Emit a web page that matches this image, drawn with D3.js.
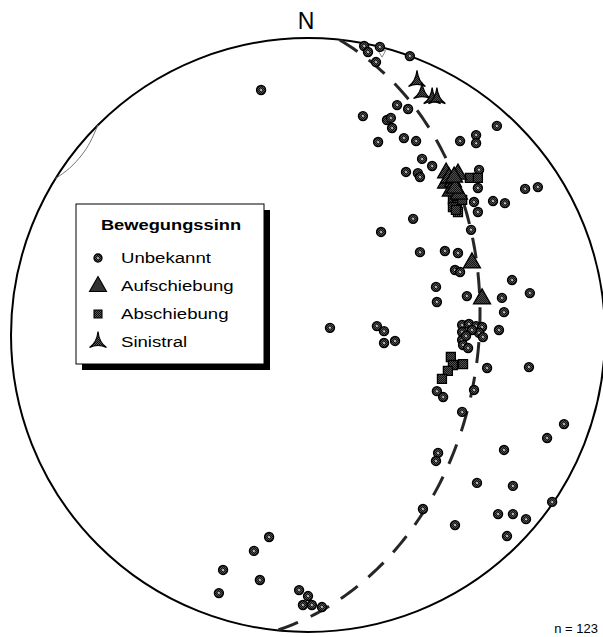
<!DOCTYPE html>
<html>
<head>
<meta charset="utf-8">
<script src="https://cdn.jsdelivr.net/npm/d3@7"></script>
<style>
  body { margin: 0; background: #fff; }
  svg { display: block; }
</style>
</head>
<body>
<script>
// Lower-hemisphere stereonet of fault data, positions in percent of net radius (east, north)
const unbekannt = [
  [-15.8, 82.5], [18.9, 97.3], [20.2, 95.3], [24.2, 97.0], [34.3, 93.9], [22.9, 91.9],
  [30.0, 77.4], [33.7, 76.1], [18.5, 73.7], [26.6, 72.4], [27.9, 73.1], [28.3, 69.7],
  [23.6, 65.0], [32.3, 66.3], [36.4, 65.3], [51.2, 65.3], [56.6, 67.3], [56.6, 64.6],
  [63.6, 70.4], [38.4, 59.3], [41.8, 56.9], [33.0, 54.9], [37.0, 54.5], [37.7, 53.2],
  [57.6, 55.6], [57.2, 49.5], [55.9, 44.8], [57.2, 41.4], [62.3, 45.1], [66.3, 44.4],
  [73.1, 49.2], [77.4, 49.8], [35.4, 39.1], [24.6, 34.7], [54.9, 35.4], [37.7, 27.9],
  [46.1, 28.3], [50.5, 27.6], [49.5, 21.9], [51.2, 21.2], [68.7, 18.5], [43.1, 16.2],
  [43.4, 11.1], [53.5, 13.1], [65.3, 12.5], [66.0, 7.7], [74.7, 14.1], [64.3, 1.7],
  [7.4, 2.4], [23.2, 3.0], [25.6, 1.3], [25.6, -2.7], [29.3, -2.0],
  [51.9, 3.4], [54.2, 3.7], [56.6, 3.0], [58.6, 2.7], [51.9, 1.0], [57.6, 0.7],
  [58.9, -0.7], [51.9, -1.7], [52.2, -3.4], [53.9, -4.4], [55.2, 1.7], [53.2, -0.3],
  [60.3, -11.1], [74.4, -10.8], [55.9, -18.5], [43.4, -18.9], [45.5, -20.9], [51.9, -25.9],
  [86.2, -30.0], [80.5, -34.7], [66.0, -38.7], [43.8, -39.7], [43.1, -42.4], [56.9, -49.8],
  [69.0, -50.8], [82.2, -56.2], [38.7, -58.6], [64.0, -60.3], [69.0, -60.3], [73.4, -62.0],
  [49.5, -64.0], [67.0, -67.7], [-13.1, -68.0], [-18.2, -72.7], [-28.6, -79.1], [-16.2, -82.5],
  [-30.0, -86.9], [-3.0, -85.9], [0.0, -87.9], [-1.7, -90.9], [1.3, -90.9], [4.7, -91.6]
];
const aufschiebung = [
  [46.5, 54.9], [50.5, 54.5], [46.5, 51.5], [48.8, 51.9], [48.1, 48.8], [50.8, 47.8],
  [47.5, 53.2], [49.5, 49.8], [49.2, 53.5], [55.2, 24.6], [58.6, 12.5]
];
const abschiebung = [
  [54.5, 52.9], [57.2, 52.9], [48.8, 45.5], [50.2, 43.8], [50.5, 41.4], [48.8, 43.1],
  [51.9, 45.5], [49.8, 42.1], [48.1, -7.4], [48.8, -10.1], [52.2, -9.8], [47.1, -12.1],
  [45.1, -14.8]
];
const sinistral = [[36.7, 85.9], [38.4, 81.8], [41.8, 80.1], [43.4, 80.1]];

// Mean plane (strike / dip, right-hand rule) drawn as a dashed great circle
const meanPlane = { strike: 6, dip: 42 };
// Small cone trace near the western primitive, as [trend, plunge]
const coneTrace = [[315, 0], [311.5, 2.3], [308.5, 3], [305, 2.3], [301.8, 0]];
// Pole of the mean plane
const polePoint = [[24.9, 95.0]];

const legendTitle = "Bewegungssinn";
const legendLabels = ["Unbekannt", "Aufschiebung", "Abschiebung", "Sinistral"];

const W = 603, H = 637;
const cx = 308, cy = 335, R = 297;
const FONT = "'Liberation Sans', Arial, Helvetica, sans-serif";

const x = d3.scaleLinear().domain([-100, 100]).range([cx - R, cx + R]);
const y = d3.scaleLinear().domain([-100, 100]).range([cy + R, cy - R]);

const rad = Math.PI / 180;
// Equal-area (Schmidt) projection of a line given by trend / plunge, in percent of radius
function project(trend, plunge) {
  const r = 100 * Math.SQRT2 * Math.sin((90 - plunge) / 2 * rad);
  return [r * Math.sin(trend * rad), r * Math.cos(trend * rad)];
}

const svg = d3.select("body").append("svg").attr("width", W).attr("height", H);

// Halftone screen used to fill the symbols
const defs = svg.append("defs");
const pat = defs.append("pattern").attr("id", "screen")
  .attr("patternUnits", "userSpaceOnUse").attr("width", 2).attr("height", 2);
pat.append("rect").attr("width", 2).attr("height", 2).attr("fill", "#5c5c5c");
pat.append("rect").attr("width", 1).attr("height", 1).attr("fill", "#0a0a0a");
pat.append("rect").attr("x", 1).attr("y", 1).attr("width", 1).attr("height", 1).attr("fill", "#0a0a0a");

// Primitive circle
svg.append("circle").attr("cx", x(0)).attr("cy", y(0)).attr("r", x(100) - x(0))
  .attr("fill", "none").attr("stroke", "#000").attr("stroke-width", 2);

// North label
svg.append("text").attr("x", x(0) - 2).attr("y", 29).attr("text-anchor", "middle")
  .attr("font-family", FONT).attr("font-size", 23).text("N");

// Dashed great circle of the mean plane
const gcPts = d3.range(0, 180.5, 1).map(b => {
  const d = meanPlane.dip * rad, br = b * rad;
  const plunge = Math.asin(Math.sin(br) * Math.sin(d)) / rad;
  const trend = meanPlane.strike + Math.atan2(Math.sin(br) * Math.cos(d), Math.cos(br)) / rad;
  return project(trend, plunge);
});
const line = d3.line().x(d => x(d[0])).y(d => y(d[1]));
svg.append("path").attr("d", line(gcPts)).attr("fill", "none")
  .attr("stroke", "#262626").attr("stroke-width", 3)
  .attr("stroke-dasharray", "21 14").attr("stroke-dashoffset", -1);

// Cone trace
svg.append("path")
  .attr("d", d3.line().curve(d3.curveNatural).x(d => x(d[0])).y(d => y(d[1]))(coneTrace.map(d => project(d[0], d[1]))))
  .attr("fill", "none").attr("stroke", "#777").attr("stroke-width", 1);

// Pole
svg.selectAll(".pole").data(polePoint).join("path").attr("class", "pole")
  .attr("d", d3.symbol(d3.symbolTriangle, 24)())
  .attr("transform", d => `translate(${x(d[0])},${y(d[1])}) rotate(180)`)
  .attr("fill", "none").attr("stroke", "#888").attr("stroke-width", 1);

// Marker shapes
const triPath = "M0,-9 L8.5,6 L-8.5,6 Z";
const sqPath = "M-4.5,-4.5 H4.5 V4.5 H-4.5 Z";
const sinPath = "M0,-9.5 Q1.2,1.5 8.5,6.5 Q0,2.5 -8.5,6.5 Q-1.2,1.5 0,-9.5 Z";

function drawCircles(g, data, r) {
  const sel = g.selectAll(null).data(data).join("g")
    .attr("transform", d => `translate(${x(d[0])},${y(d[1])})`);
  sel.append("circle").attr("r", r).attr("fill", "url(#screen)").attr("stroke", "#000").attr("stroke-width", 1.4);
  sel.append("circle").attr("r", 1).attr("fill", "#d8d8d8");
}
function drawShape(g, data, path, sw) {
  g.selectAll(null).data(data).join("path")
    .attr("d", path)
    .attr("transform", d => `translate(${x(d[0])},${y(d[1])})`)
    .attr("fill", "url(#screen)").attr("stroke", "#000").attr("stroke-width", sw);
}

const marks = svg.append("g");
drawCircles(marks.append("g"), unbekannt, 4.5);
drawShape(marks.append("g"), abschiebung, sqPath, 1.3);
drawShape(marks.append("g"), aufschiebung, triPath, 1.3);
drawShape(marks.append("g"), sinistral, sinPath, 1.2);

// Legend
const lg = svg.append("g");
const lx = 76, ly = 204, lw = 188, lh = 160;
lg.append("rect").attr("x", lx + 6).attr("y", ly + 6).attr("width", lw).attr("height", lh).attr("fill", "#000");
lg.append("rect").attr("x", lx).attr("y", ly).attr("width", lw).attr("height", lh)
  .attr("fill", "#fff").attr("stroke", "#000").attr("stroke-width", 1);
lg.append("text").attr("transform", `translate(${lx + 95},${ly + 26}) scale(1.22,1)`)
  .attr("text-anchor", "middle").attr("font-family", FONT).attr("font-weight", "bold")
  .attr("font-size", 15).text(legendTitle);

const rowY = d3.scalePoint().domain(legendLabels).range([ly + 59, ly + 143]);
const symX = lx + 22, txtX = lx + 45;
legendLabels.forEach((lab, i) => {
  const yy = rowY(lab);
  lg.append("text").attr("transform", `translate(${txtX},${yy}) scale(1.2,1)`)
    .attr("font-family", FONT).attr("font-size", 15.5).text(lab);
  const sy = yy - 5;
  if (i === 0) {
    lg.append("circle").attr("cx", symX).attr("cy", sy).attr("r", 4).attr("fill", "url(#screen)").attr("stroke", "#000").attr("stroke-width", 1.3);
    lg.append("circle").attr("cx", symX).attr("cy", sy).attr("r", 0.9).attr("fill", "#d8d8d8");
  } else {
    const p = i === 1 ? triPath : i === 2 ? "M-4,-4 H4 V4 H-4 Z" : sinPath;
    const off = i === 1 ? -0.5 : i === 3 ? -1 : 0;
    lg.append("path").attr("d", p).attr("transform", `translate(${symX},${sy + off})`)
      .attr("fill", "url(#screen)").attr("stroke", "#000").attr("stroke-width", 1.1);
  }
});

// Sample size
const nTotal = unbekannt.length + aufschiebung.length + abschiebung.length + sinistral.length;
svg.append("text").attr("x", 598).attr("y", 633).attr("text-anchor", "end")
  .attr("font-family", FONT).attr("font-size", 13).text(`n = ${nTotal}`);
</script>
</body>
</html>
